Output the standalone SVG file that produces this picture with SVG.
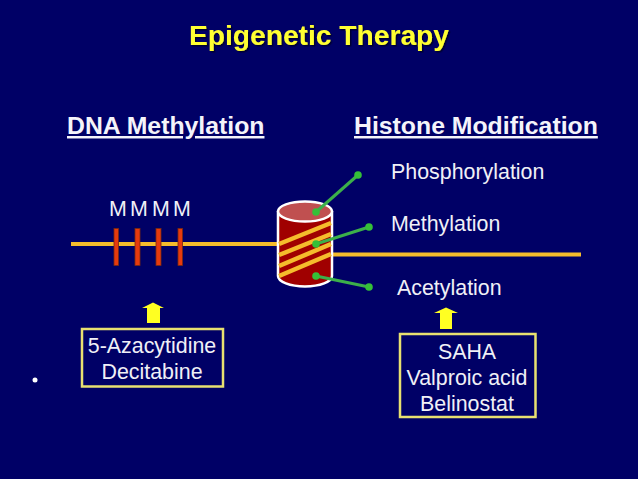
<svg xmlns="http://www.w3.org/2000/svg" width="638" height="479" viewBox="0 0 638 479">
<defs><filter id="sh" x="-5%" y="-20%" width="110%" height="140%"><feDropShadow dx="1.500" dy="1.500" stdDeviation="0.400" flood-color="#000033"/></filter></defs>
<style>
text{font-family:"Liberation Sans",Arial,sans-serif;fill:#f0f0f6;font-size:21.400px}
.h{fill:#f4f4fa;font-weight:bold;font-size:24.800px;text-decoration:underline}
.t{text-anchor:middle}
.dna{stroke:#f5bc2c;stroke-width:4;fill:none}
.m{fill:#e63a0e;stroke:#7a2a10;stroke-width:.8}
.g{stroke:#3cb04a;stroke-width:3;fill:none}
.d{fill:#35c038}
.box{fill:#000066;stroke:#e8e070;stroke-width:2.500}
.ar{fill:#ffff22}
.st{stroke:#f5bc2c;stroke-width:4.500;fill:none}
</style>
<rect width="638" height="479" fill="#000066"/>
<text class="t" x="319" y="45" filter="url(#sh)" style="fill:#ffff33;font-weight:bold;font-size:28.200px">Epigenetic Therapy</text>
<text class="h" x="67" y="134">DNA Methylation</text>
<text class="h" x="354" y="134">Histone Modification</text>
<g id="dna-left">
<line class="dna" x1="71" y1="244" x2="278" y2="244"/>
<rect class="m" x="114" y="228.500" width="4.500" height="37"/>
<rect class="m" x="135" y="228.500" width="5" height="37"/>
<rect class="m" x="156" y="228.500" width="5" height="37"/>
<rect class="m" x="178" y="228.500" width="4.500" height="37"/>
<text x="109" y="216">M</text><text x="130" y="216">M</text><text x="152" y="216">M</text><text x="173" y="216">M</text>
</g>
<g id="dna-right"><line class="dna" x1="332" y1="254.500" x2="581" y2="254.500"/></g>
<g id="nucleosome">
<path d="M278 212V276A27 10.500 0 0 0 332 276V212Z" fill="#a00000" stroke="#fff" stroke-width="2.500"/>
<ellipse cx="305" cy="211.500" rx="27" ry="10" fill="#c05050" stroke="#fff" stroke-width="2.500"/>
<path class="st" d="M279 244L331 223M279 255L331 234M279 266L331 244M279 276L331 254"/>
</g>
<g id="connectors">
<line class="g" x1="316" y1="212" x2="358" y2="175"/>
<line class="g" x1="316" y1="244" x2="369" y2="227"/>
<line class="g" x1="316" y1="276" x2="369" y2="287"/>
<circle class="d" cx="316" cy="212" r="3.800"/><circle class="d" cx="358" cy="175" r="3.800"/>
<circle class="d" cx="316" cy="244" r="3.800"/><circle class="d" cx="369" cy="227" r="3.800"/>
<circle class="d" cx="316" cy="276" r="3.800"/><circle class="d" cx="369" cy="287" r="3.800"/>
</g>
<g id="labels">
<text x="391" y="179">Phosphorylation</text>
<text x="391" y="231">Methylation</text>
<text x="397" y="295">Acetylation</text>
</g>
<g id="arrow-left"><path class="ar" d="M147 323V308H142L153 302.500L164 308H160V323Z"/></g>
<g id="arrow-right"><path class="ar" d="M440 329V313H434L446 307.500L458 313H452V329Z"/></g>
<g id="box-left">
<rect class="box" x="82" y="329" width="141" height="57.500"/>
<text class="t" x="152" y="353">5-Azacytidine</text>
<text class="t" x="152" y="379">Decitabine</text>
</g>
<g id="box-right">
<rect class="box" x="400" y="334" width="135.500" height="83"/>
<text class="t" x="467" y="359">SAHA</text>
<text class="t" x="467" y="385">Valproic acid</text>
<text class="t" x="467" y="411">Belinostat</text>
</g>
<circle cx="35" cy="380" r="2.500" fill="#fff"/>
</svg>
